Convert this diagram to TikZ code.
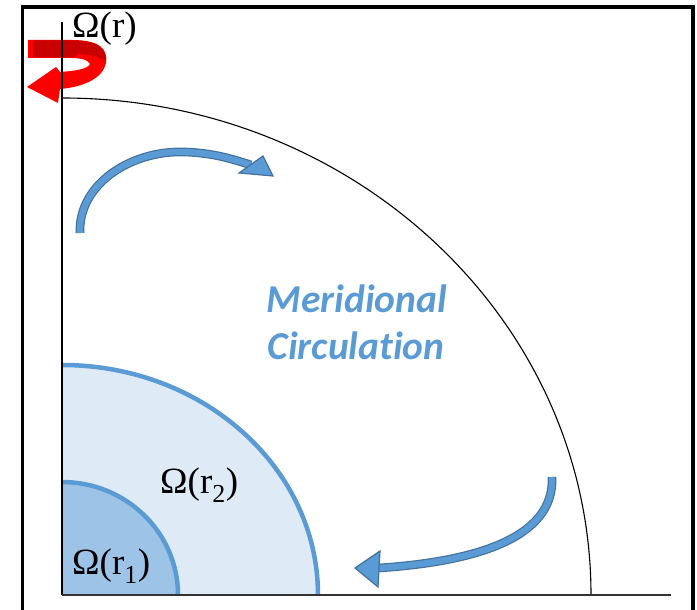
\documentclass[tikz,border=0pt]{standalone}
\usepackage{fontspec}
\newfontfamily\labelfont{Liberation Serif}
\newfontfamily\capfont[Ligatures=CommonOff]{Carlito}
\definecolor{blueline}{RGB}{91,155,213}
\definecolor{bluedark}{RGB}{65,113,156}
\definecolor{lightfill}{RGB}{222,235,247}
\definecolor{midfill}{RGB}{157,195,230}
\definecolor{brightred}{RGB}{255,0,0}
\definecolor{deepred}{RGB}{200,0,0}
\tikzset{
  omegalabel/.style={inner sep=0pt, anchor=base west, font=\labelfont\fontsize{37}{40}\selectfont},
  circtext/.style={inner sep=0pt, anchor=base, text=blueline, font=\capfont\bfseries\itshape\fontsize{39.5}{44}\selectfont},
  shaft/.style={draw=bluedark, line width=1.2pt, double=blueline, double distance=6.3pt, line cap=butt},
  bluehead/.style={fill=blueline, draw=bluedark, line width=1.2pt, line join=miter},
  zone/.style={draw=blueline, line width=4.5pt},
}
\begin{document}
\begin{tikzpicture}[x=1pt,y=1pt]
\useasboundingbox (0,0) rectangle (697,610);
% frame
\draw[line width=3.5pt, line join=miter] (22.5,-10) -- (22.5,603) -- (693,603) -- (693,-10);
% filled zones
\fill[lightfill] (62,15) -- (318,15) arc[start angle=0,end angle=90,x radius=256,y radius=230] -- cycle;
\fill[midfill] (62,15) -- (178,15) arc[start angle=0,end angle=90,x radius=116,y radius=113] -- cycle;
\draw[zone] (318,15) arc[start angle=0,end angle=90,x radius=256,y radius=230];
\draw[zone] (178,15) arc[start angle=0,end angle=90,x radius=116,y radius=113];
% outer boundary
\draw[line width=1.1pt] (591,15) arc[start angle=0,end angle=90,x radius=529,y radius=497];
% red rotation arrow
\fill[brightred] (28,570) -- (72,570) .. controls (101,570) and (108,560) .. (106,547)
  .. controls (103,532) and (84,523) .. (60,521) -- (58,507) -- (27,523) -- (56,543) -- (60,538)
  .. controls (75,539) and (88,541) .. (90,546) .. controls (88,551) and (78,552) .. (70,552)
  -- (28,552) -- cycle;
\fill[deepred] (33,569.5) -- (72,569.5) .. controls (100,569.5) and (107,560) .. (105.5,549)
  .. controls (98,554) and (88,556) .. (78,556) .. controls (74,553) and (72,552) .. (68,553) -- (33,553) -- cycle;
% axes
\draw[line width=1.4pt] (62,588) coordinate (top) -- (62,15) coordinate (origin);
\draw[line width=1.4pt, black!80] (origin) -- (671,15) coordinate (xend);
% blue circulation arrows
\draw[shaft] (80,377) coordinate (t1) .. controls (78,425) and (130,460) .. (185,458)
  .. controls (215,457) and (235,450) .. (251,445) coordinate (h1);
\draw[bluehead] (239,437) -- (263,454) -- (273,434) -- cycle;
\draw[shaft] (552,133) coordinate (t2) .. controls (555,70) and (470,48) .. (379,42) coordinate (h2);
\draw[bluehead] (380,59) -- (378,23) -- (355,42) -- cycle;
% labels
\node[omegalabel] (omr) at (72,572) {Ω(r)};
\node[omegalabel] (omr2) at (160,116) {Ω(r\textsubscript{2})};
\node[omegalabel] (omr1) at (72,35) {Ω(r\textsubscript{1})};
\node[circtext] (mer) at (357,297) {Meridional};
\node[circtext] (circ) at (356,250) {Circulation};
\end{tikzpicture}
\end{document}
